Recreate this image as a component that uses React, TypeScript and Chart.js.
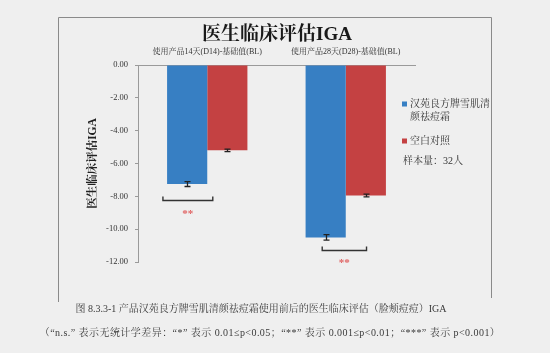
import React, { useEffect, useRef } from 'react';
import { Chart, registerables } from 'chart.js';

Chart.register(...registerables);

// ---- data ----
const categories = ['使用产品14天(D14)-基础值(BL)', '使用产品28天(D28)-基础值(BL)'];
const seriesNames = ['汉苑良方牌雪肌清颜祛痘霜', '空白对照'];
const legendLines = [['汉苑良方牌雪肌清', '颜祛痘霜'], ['空白对照']];
const productValues = [-7.25, -10.5];
const productErrors = [0.15, 0.17];
const controlValues = [-5.2, -7.95];
const controlErrors = [0.08, 0.08];
const yTickMin = -12;
const yTickMax = 0;
const yTickStep = 2;
const sampleNote = '样本量：32人';
const chartTitle = '医生临床评估IGA';
const yAxisTitle = '医生临床评估IGA';
// significance annotations (category-index units, value units)
const sigFrom = [-0.32, 0.83];
const sigTo = [0.04, 1.15];
const sigBracketY = [-8.2, -11.27];
const sigLabelY = [-8.95, -11.95];
const sigLabels = ['**', '**'];
const captionLines = [
  '图 8.3.3-1 产品汉苑良方牌雪肌清颜祛痘霜使用前后的医生临床评估（脸颊痘痘）IGA',
  '（“n.s.” 表示无统计学差异：“*” 表示 0.01≤p<0.05；“**” 表示 0.001≤p<0.01；“***” 表示 p<0.001）',
];

const FONT = "'Liberation Serif', 'Noto Serif CJK SC', 'Noto Sans CJK SC', serif";
const BLUE = '#377fc3';
const RED = '#c44142';
const BG = '#efefef';

const decorPlugin = {
  id: 'decor',
  beforeDraw(chart: any) {
    const ctx = chart.ctx;
    ctx.save();
    ctx.fillStyle = BG;
    ctx.fillRect(0, 0, chart.width, chart.height);
    // frame (left, top, right)
    ctx.strokeStyle = '#8a8a8a';
    ctx.lineWidth = 1;
    ctx.beginPath();
    ctx.moveTo(58.5, 302);
    ctx.lineTo(58.5, 17.5);
    ctx.lineTo(491.5, 17.5);
    ctx.lineTo(491.5, 298);
    ctx.stroke();
    ctx.restore();
  },
  afterDraw(chart: any) {
    const ctx = chart.ctx;
    const xs = chart.scales.x;
    const ys = chart.scales.y;
    ctx.save();
    // error bars
    const errs = [productErrors, controlErrors];
    const vals = [productValues, controlValues];
    ctx.strokeStyle = '#222';
    ctx.lineWidth = 1.3;
    for (let d = 0; d < 2; d++) {
      const meta = chart.getDatasetMeta(d);
      meta.data.forEach((bar: any, j: number) => {
        const v = vals[d][j];
        const e = errs[d][j];
        const x = Math.round(bar.x) + 0.5;
        const y1 = ys.getPixelForValue(v - e);
        const y2 = ys.getPixelForValue(v + e);
        ctx.beginPath();
        ctx.moveTo(x, y1);
        ctx.lineTo(x, y2);
        ctx.moveTo(x - 3, y1);
        ctx.lineTo(x + 3, y1);
        ctx.moveTo(x - 3, y2);
        ctx.lineTo(x + 3, y2);
        ctx.stroke();
      });
    }
    // significance brackets
    for (let i = 0; i < sigLabels.length; i++) {
      const x1 = xs.getPixelForValue(sigFrom[i]);
      const x2 = xs.getPixelForValue(sigTo[i]);
      const y = Math.round(ys.getPixelForValue(sigBracketY[i])) + 0.5;
      ctx.strokeStyle = '#333';
      ctx.lineWidth = 1.4;
      ctx.beginPath();
      ctx.moveTo(x1, y - 4);
      ctx.lineTo(x1, y);
      ctx.lineTo(x2, y);
      ctx.lineTo(x2, y - 4);
      ctx.stroke();
      ctx.fillStyle = '#e06262';
      ctx.font = `bold 11px ${FONT}`;
      ctx.textAlign = 'center';
      ctx.textBaseline = 'middle';
      ctx.fillText(sigLabels[i], (x1 + x2) / 2, ys.getPixelForValue(sigLabelY[i]) + 2);
    }
    // title
    ctx.fillStyle = '#1a1a1a';
    ctx.font = `bold 19px ${FONT}`;
    ctx.textAlign = 'center';
    ctx.textBaseline = 'middle';
    ctx.fillText(chartTitle, 277, 35);
    // legend
    const colors = [BLUE, RED];
    ctx.font = `10px ${FONT}`;
    ctx.textAlign = 'left';
    ctx.textBaseline = 'middle';
    let ly = 104;
    for (let d = 0; d < seriesNames.length; d++) {
      ctx.fillStyle = colors[d];
      ctx.fillRect(402, ly - 2.5, 5, 5);
      ctx.fillStyle = '#333';
      legendLines[d].forEach((line, k) => {
        ctx.fillText(line, 410, ly + k * 13);
      });
      ly += legendLines[d].length * 13 + 11;
    }
    ctx.fillStyle = '#333';
    ctx.fillText(sampleNote, 403, 161);
    // caption
    ctx.fillStyle = '#3a3a3a';
    ctx.font = `10px ${FONT}`;
    ctx.textAlign = 'center';
    ctx.fillText(captionLines[0], 261, 309);
    try { (ctx as any).letterSpacing = '0.45px'; } catch (e) { /* ignore */ }
    ctx.fillText(captionLines[1], 270, 333);
    try { (ctx as any).letterSpacing = '0px'; } catch (e) { /* ignore */ }
    ctx.restore();
  },
};

export default function App() {
  const ref = useRef<HTMLCanvasElement | null>(null);
  useEffect(() => {
    if (!ref.current) return;
    const chart = new Chart(ref.current, {
      type: 'bar',
      data: {
        labels: categories,
        datasets: [
          { label: seriesNames[0], data: productValues, backgroundColor: BLUE, borderWidth: 0 },
          { label: seriesNames[1], data: controlValues, backgroundColor: RED, borderWidth: 0 },
        ],
      },
      options: {
        responsive: false,
        animation: false,
        layout: { padding: { left: 60, top: 40, right: 135, bottom: 91 } },
        datasets: { bar: { categoryPercentage: 0.58, barPercentage: 1.0 } },
        plugins: { legend: { display: false }, tooltip: { enabled: false }, title: { display: false } },
        scales: {
          x: {
            position: 'top',
            grid: { drawOnChartArea: false, drawTicks: false, offset: true },
            border: { color: '#9a9a9a' },
            ticks: { font: { size: 8, family: FONT }, color: '#333', padding: 8, maxRotation: 0 },
            afterFit: (s: any) => { s.height = 25; },
          },
          y: {
            min: yTickMin,
            max: yTickMax,
            ticks: {
              stepSize: yTickStep,
              font: { size: 8.5, family: FONT },
              color: '#333',
              padding: 7,
              callback: (v: any) => Number(v).toFixed(2),
            },
            grid: { drawOnChartArea: false, drawTicks: true, tickLength: 3, color: '#9a9a9a' },
            border: { color: '#9a9a9a' },
            title: {
              display: true,
              text: yAxisTitle,
              font: { size: 11.5, weight: 'bold', family: FONT },
              color: '#222',
              padding: { top: 26, bottom: 0 },
            },
            afterFit: (s: any) => { s.width = 78; },
          },
        },
      } as any,
      plugins: [decorPlugin],
    });
    return () => chart.destroy();
  }, []);
  return (
    <div style={{ position: 'fixed', left: 0, top: 0, width: 550, height: 353, background: BG }}>
      <canvas ref={ref} width={550} height={353} style={{ width: 550, height: 353, display: 'block' }} />
    </div>
  );
}
